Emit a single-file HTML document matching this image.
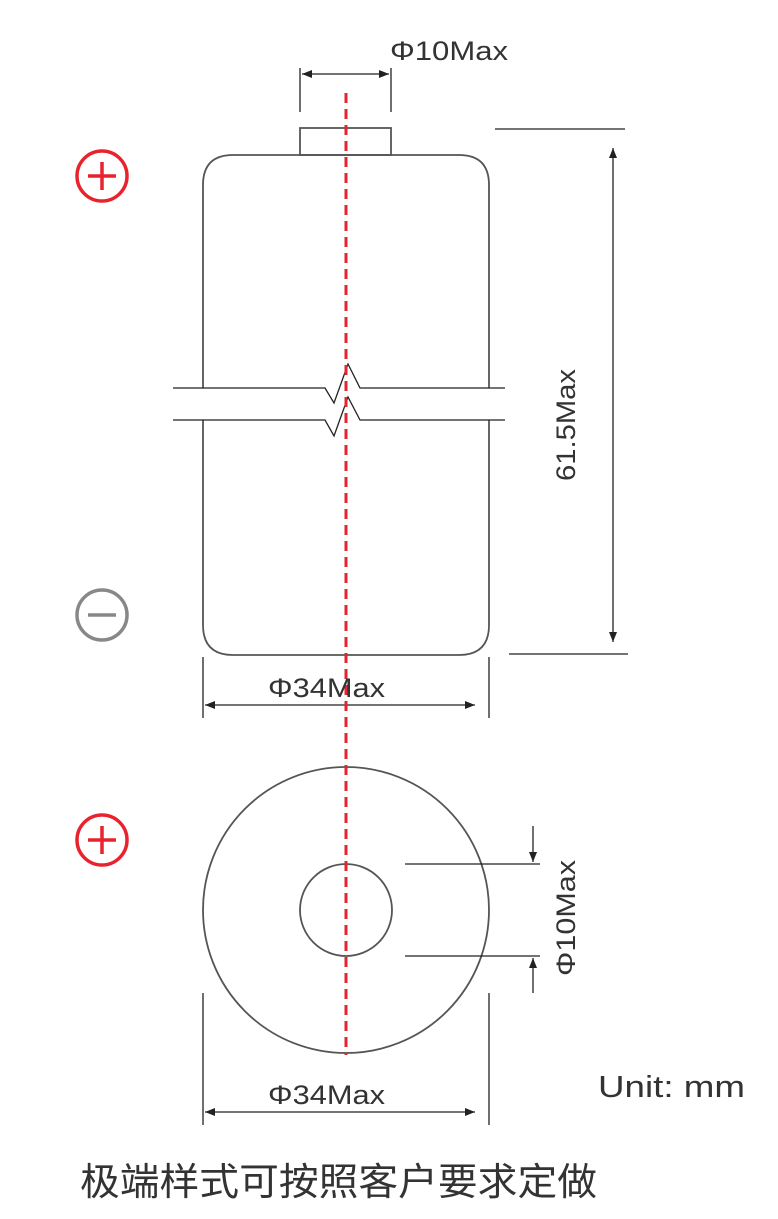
<!DOCTYPE html>
<html><head><meta charset="utf-8"><style>
body{margin:0;background:#fff}
svg text{font-family:"Liberation Sans","Noto Sans CJK SC",sans-serif;fill:#333}
</style></head><body>
<svg width="778" height="1214" viewBox="0 0 778 1214" xmlns="http://www.w3.org/2000/svg">
<defs>
<marker id="a" viewBox="0 0 10 10" refX="10" refY="5" markerWidth="10" markerHeight="10" markerUnits="userSpaceOnUse" orient="auto-start-reverse"><path d="M0,1 L10,5 L0,9 z" fill="#222"/></marker>
</defs>
<g fill="none" stroke="#555" stroke-width="1.8">
<path d="M203,388 V185 Q203,155 233,155 H459 Q489,155 489,185 V388"/>
<path d="M203,420 V625 Q203,655 233,655 H459 Q489,655 489,625 V420"/>
<rect x="300" y="128" width="91" height="27"/>
<circle cx="346" cy="910" r="143"/>
<circle cx="346" cy="910" r="46"/>
</g>
<g fill="none" stroke="#222" stroke-width="1.3">
<path d="M173,388 H325 L334,403 L348,364 L360,388 H505"/>
<path d="M173,420 H325 L334,436 L348,397 L360,420 H505"/>
<path d="M300,68 V112 M391,68 V112"/>
<path d="M302,74 H389" marker-start="url(#a)" marker-end="url(#a)"/>
<path d="M495,129 H625 M509,654 H628"/>
<path d="M613,148 V642" marker-start="url(#a)" marker-end="url(#a)"/>
<path d="M203,657 V718 M489,657 V718"/>
<path d="M205,705 H475" marker-start="url(#a)" marker-end="url(#a)"/>
<path d="M405,864 H540 M405,956 H540"/>
<path d="M533,826 V862" marker-end="url(#a)"/>
<path d="M533,993 V958" marker-end="url(#a)"/>
<path d="M203,993 V1125 M489,993 V1125"/>
<path d="M205,1112 H475" marker-start="url(#a)" marker-end="url(#a)"/>
</g>
<line x1="346" y1="93" x2="346" y2="1055" stroke="#e8232d" stroke-width="3" stroke-dasharray="10,6"/>
<g fill="none" stroke-width="3.5">
<circle cx="102" cy="176" r="25" stroke="#e8232d"/>
<path d="M88,176 H116 M102,162 V190" stroke="#e8232d"/>
<circle cx="102" cy="615" r="25" stroke="#888"/>
<path d="M88,615 H116" stroke="#888"/>
<circle cx="102" cy="840" r="25" stroke="#e8232d"/>
<path d="M88,840 H116 M102,826 V854" stroke="#e8232d"/>
</g>
<text x="390" y="60" font-size="27" textLength="118" lengthAdjust="spacingAndGlyphs">Φ10Max</text>
<text x="268" y="697" font-size="27" textLength="117" lengthAdjust="spacingAndGlyphs">Φ34Max</text>
<text x="268" y="1104" font-size="27" textLength="117" lengthAdjust="spacingAndGlyphs">Φ34Max</text>
<text transform="translate(575,425) rotate(-90)" text-anchor="middle" font-size="27" textLength="112" lengthAdjust="spacingAndGlyphs">61.5Max</text>
<text transform="translate(575,918) rotate(-90)" text-anchor="middle" font-size="27" textLength="116" lengthAdjust="spacingAndGlyphs">Φ10Max</text>
<text x="598" y="1097" font-size="31" textLength="147" lengthAdjust="spacingAndGlyphs">Unit: mm</text>
<text x="80" y="1195" font-size="38" textLength="517" lengthAdjust="spacingAndGlyphs">极端样式可按照客户要求定做</text>
</svg>
</body></html>
